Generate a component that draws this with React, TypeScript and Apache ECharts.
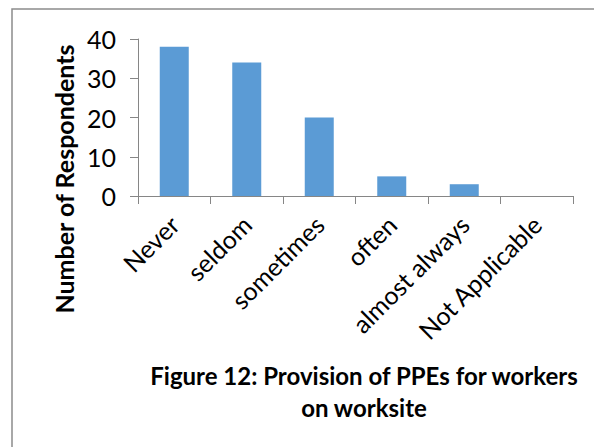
import React, { useEffect, useRef } from "react";
import * as echarts from "echarts";

const categories = ["Never", "seldom", "sometimes", "often", "almost always", "Not Applicable"];
const respondents = [38, 34, 20, 5, 3, 0];
const yAxisTitle = "Number of Respondents";
const figureTitle = "Figure 12: Provision of PPEs for workers\non worksite";

const FONT = "Lato, 'Open Sans', sans-serif";

export default function App() {
  const ref = useRef<HTMLDivElement>(null);
  useEffect(() => {
    if (!ref.current) return;
    const chart = echarts.init(ref.current, null, { renderer: "svg" });
    chart.setOption({
      animation: false,
      backgroundColor: "#ffffff",
      textStyle: { fontFamily: FONT },
      grid: { left: 138, top: 39, right: 21, bottom: 251, containLabel: false },
      xAxis: {
        type: "category",
        data: categories,
        boundaryGap: true,
        axisLine: { show: true, lineStyle: { color: "#868686", width: 1 } },
        axisTick: { show: true, length: 8, alignWithLabel: false, lineStyle: { color: "#868686" } },
        axisLabel: {
          rotate: 45,
          interval: 0,
          margin: 24,
          color: "#000",
          fontSize: 25,
          fontFamily: FONT,
        },
      },
      yAxis: {
        type: "value",
        min: 0,
        max: 40,
        interval: 10,
        axisLine: { show: true, lineStyle: { color: "#868686", width: 1 } },
        axisTick: { show: true, length: 8, lineStyle: { color: "#868686" } },
        splitLine: { show: false },
        axisLabel: { color: "#000", fontSize: 25, margin: 22, fontFamily: FONT },
      },
      series: [
        {
          type: "bar",
          data: respondents,
          barWidth: "40%",
          itemStyle: { color: "#5B9BD5" },
        },
      ],
      graphic: [
        {
          type: "rect",
          shape: { x: 12, y: 9, width: 640, height: 500 },
          style: { fill: "none", stroke: "#8c8c8c", lineWidth: 1.5 },
          silent: true,
        },
        {
          type: "text",
          x: 64,
          y: 179,
          rotation: Math.PI / 2,
          style: {
            text: yAxisTitle,
            fontSize: 25,
            fontWeight: "bold",
            fontFamily: FONT,
            fill: "#000",
            align: "center",
            verticalAlign: "middle",
          },
        },
        {
          type: "text",
          x: 364,
          y: 391,
          style: {
            text: figureTitle,
            fontSize: 24,
            fontWeight: "bold",
            fontFamily: FONT,
            fill: "#000",
            align: "center",
            verticalAlign: "middle",
            lineHeight: 32,
          },
        },
      ],
    });
    return () => chart.dispose();
  }, []);
  return (
    <div
      ref={ref}
      style={{ position: "fixed", left: 0, top: 0, width: 594, height: 447, background: "#fff" }}
    />
  );
}
